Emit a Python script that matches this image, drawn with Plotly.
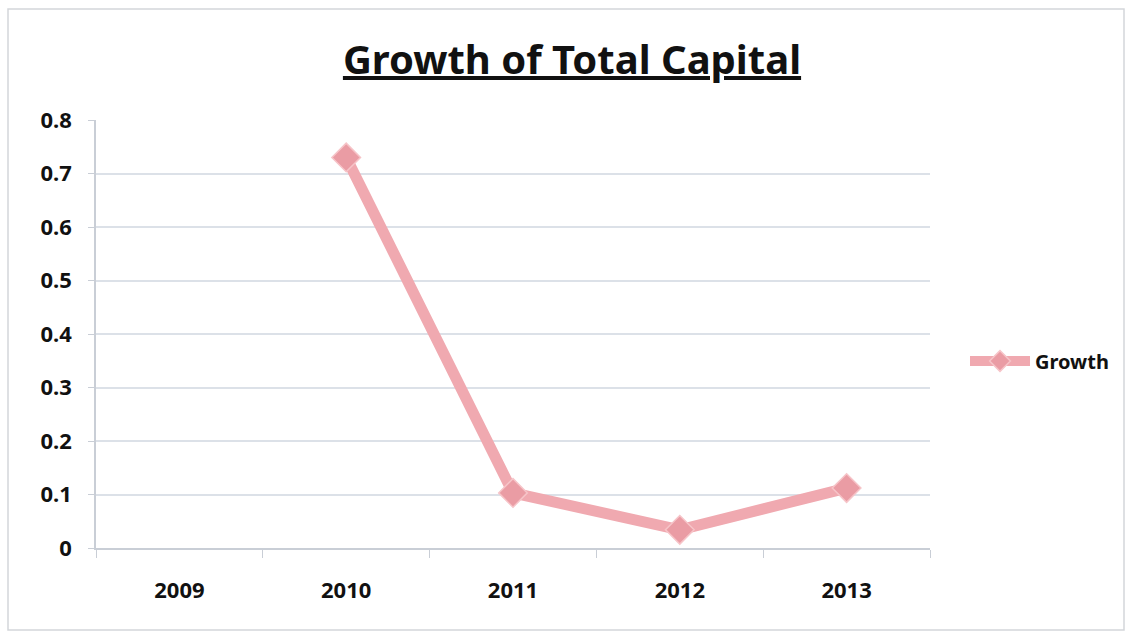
import plotly.graph_objects as go

years = ["2009", "2010", "2011", "2012", "2013"]
growth = [None, 0.73, 0.103, 0.034, 0.112]
y_ticks = [0, 0.1, 0.2, 0.3, 0.4, 0.5, 0.6, 0.7, 0.8]
y_labels = ["0", "0.1", "0.2", "0.3", "0.4", "0.5", "0.6", "0.7", "0.8"]

W, H = 1129, 635
L, R, T, B = 96, 199, 120, 87
pw, ph = W - L - R, H - T - B

fig = go.Figure()
fig.add_trace(go.Scatter(
    x=years, y=growth, name="<b>Growth</b>", mode="lines+markers",
    line=dict(color="#F0A9B0", width=11),
    marker=dict(symbol="diamond", size=22, color="#EA9CA4",
                line=dict(color="#F6C4C8", width=1.5)),
    connectgaps=False,
))

fig.update_layout(
    width=W, height=H,
    margin=dict(l=L, r=R, t=T, b=B),
    paper_bgcolor="white", plot_bgcolor="white",
    font=dict(family="Noto Sans", color="#111111"),
    title=dict(text="<b><u>Growth of Total Capital</u></b>",
               x=(572) / W, xanchor="center", y=1 - 60 / H, yanchor="middle",
               font=dict(size=40, family="Noto Sans", color="#111111")),
    showlegend=True,
    legend=dict(x=(965 - L) / pw, y=(548 - 361) / ph, xanchor="left", yanchor="middle",
                font=dict(size=20, family="Noto Sans", color="#111111"),
                bgcolor="rgba(0,0,0,0)", itemwidth=60),
    xaxis=dict(type="category", categoryorder="array", categoryarray=years,
               range=[-0.5, 4.5], showgrid=False, showline=True,
               linecolor="#C9CED6", linewidth=1.5,
               ticks="outside", tickson="boundaries", ticklen=8, tickcolor="#C9CED6",
               tickfont=dict(size=22, family="Noto Sans", color="#111111"),
               tickprefix="<b>", ticksuffix="</b>", ticklabelstandoff=22),
    yaxis=dict(range=[0, 0.8], tickvals=y_ticks, ticktext=[f"<b>{t}</b>" for t in y_labels],
               showgrid=True, gridcolor="#DCE1E8", gridwidth=1.5,
               showline=True, linecolor="#C9CED6", linewidth=1.5,
               ticks="outside", ticklen=6, tickcolor="#C9CED6",
               zeroline=False,
               tickfont=dict(size=22, family="Noto Sans", color="#111111"),
               ticklabelstandoff=12),
    shapes=[dict(type="rect", xref="paper", yref="paper",
                 x0=(8 - L) / pw, x1=(1124 - L) / pw,
                 y0=(548 - 630) / ph, y1=(548 - 9) / ph,
                 line=dict(color="#D3D6DA", width=1.5), fillcolor="rgba(0,0,0,0)",
                 layer="below")],
)

fig.write_html("out.html")
